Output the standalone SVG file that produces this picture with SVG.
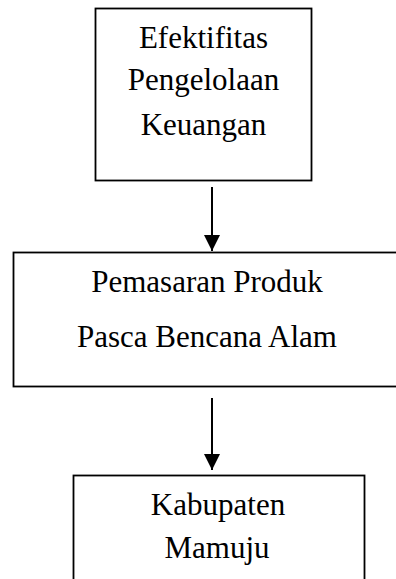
<svg xmlns="http://www.w3.org/2000/svg" width="396" height="579" viewBox="0 0 396 579">
<style>
.box{fill:#fff;stroke:#000;stroke-width:1.8}
.t{font-family:"Liberation Serif","Times New Roman",serif;font-size:31px;fill:#000;text-anchor:middle}
.c{stroke:#000;stroke-width:2;fill:none}
</style>
<defs>
<marker id="ah" markerWidth="16" markerHeight="16" refX="16" refY="8" orient="auto" markerUnits="userSpaceOnUse">
<path d="M0,0 L16,8 L0,16 Z" fill="#000"/>
</marker>
</defs>
<rect width="396" height="579" fill="#fff"/>
<g id="node-efektifitas">
<rect class="box" x="95.5" y="8.5" width="216" height="172"/>
<text class="t" x="203.5" y="48">Efektifitas</text>
<text class="t" x="203.5" y="90">Pengelolaan</text>
<text class="t" x="203.5" y="135">Keuangan</text>
</g>
<g id="node-pemasaran">
<rect class="box" x="13.5" y="252.5" width="400" height="134"/>
<text class="t" x="207" y="292">Pemasaran Produk</text>
<text class="t" x="207" y="347">Pasca Bencana Alam</text>
</g>
<g id="node-kabupaten">
<rect class="box" x="73.5" y="475.5" width="291" height="130"/>
<text class="t" x="218" y="515">Kabupaten</text>
<text class="t" x="217" y="558">Mamuju</text>
</g>
<g id="connectors">
<line class="c" x1="212" y1="187" x2="212" y2="251" marker-end="url(#ah)"/>
<line class="c" x1="212" y1="398" x2="212" y2="470" marker-end="url(#ah)"/>
</g>
</svg>
